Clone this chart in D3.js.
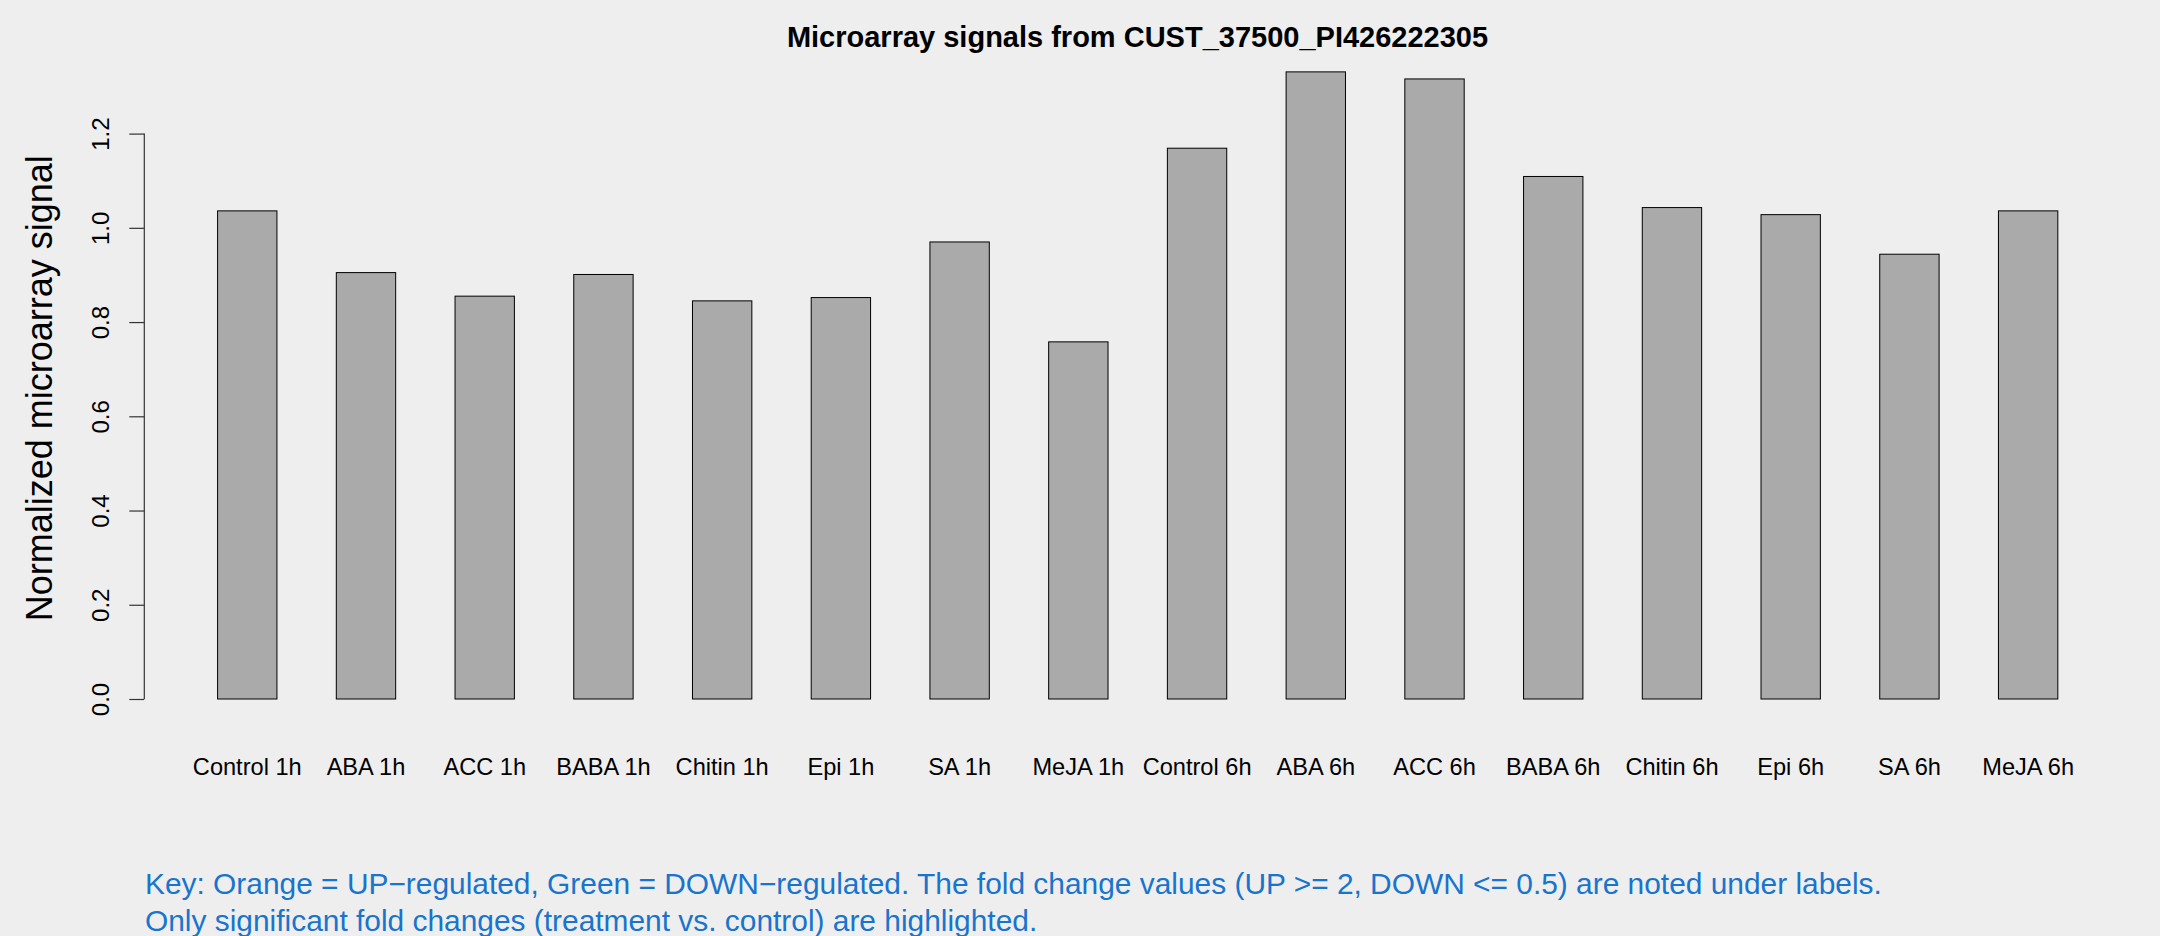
<!DOCTYPE html>
<html>
<head>
<meta charset="utf-8">
<script src="https://cdn.jsdelivr.net/npm/d3@7"></script>
<style>
  html, body { margin: 0; padding: 0; background: #EEEEEE; }
  svg { display: block; }
  text { font-family: "Liberation Sans", Arial, Helvetica, sans-serif; }
</style>
</head>
<body>
<script>
const categories = ["Control 1h","ABA 1h","ACC 1h","BABA 1h","Chitin 1h","Epi 1h","SA 1h","MeJA 1h",
                    "Control 6h","ABA 6h","ACC 6h","BABA 6h","Chitin 6h","Epi 6h","SA 6h","MeJA 6h"];
const signalValues = [1.036, 0.905, 0.855, 0.901, 0.845, 0.852, 0.970, 0.758,
                      1.169, 1.331, 1.316, 1.109, 1.043, 1.028, 0.944, 1.036];
const yTickValues = [0, 0.2, 0.4, 0.6, 0.8, 1.0, 1.2];
const titleText = "Microarray signals from CUST_37500_PI426222305";
const yLabelText = "Normalized microarray signal";
const keyLines = [
  "Key: Orange = UP\u2212regulated, Green = DOWN\u2212regulated. The fold change values (UP >= 2, DOWN <= 0.5) are noted under labels.",
  "Only significant fold changes (treatment vs. control) are highlighted."
];

const W = 2160, H = 936;
const svg = d3.select("body").append("svg").attr("width", W).attr("height", H);
svg.append("rect").attr("width", W).attr("height", H).attr("fill", "#EEEEEE");

const x = d3.scaleBand().domain(categories).range([187.9, 2087.5]).paddingInner(0.5).paddingOuter(0.25);
const y = d3.scaleLinear().domain([0, 1.2]).range([699, 133.6]);

// bars
svg.append("g").selectAll("rect").data(categories).join("rect")
  .attr("x", d => x(d))
  .attr("y", (d, i) => y(signalValues[i]))
  .attr("width", x.bandwidth())
  .attr("height", (d, i) => y(0) - y(signalValues[i]))
  .attr("fill", "#AAAAAA")
  .attr("stroke", "#000")
  .attr("stroke-width", 1);

// y axis
const axisX = 144.3;
const yAxis = d3.axisLeft(y).tickValues(yTickValues).tickFormat(d3.format(".1f")).tickSize(15).tickPadding(0);
const gy = svg.append("g").attr("transform", `translate(${axisX},0)`).call(yAxis);
gy.selectAll(".domain").attr("stroke", "#333").attr("stroke-width", 1.2)
  .attr("d", `M0,${y(0)}V${y(1.2)}`);
gy.selectAll(".tick line").attr("stroke", "#333").attr("stroke-width", 1.2);
gy.selectAll(".tick text")
  .attr("x", null).attr("dy", null)
  .attr("transform", "translate(-35,0) rotate(-90)")
  .attr("text-anchor", "middle")
  .attr("fill", "#000")
  .style("font-size", "24px")
  .style("font-family", "'Liberation Sans', Arial, sans-serif");

// x labels
const xAxis = d3.axisBottom(x).tickSize(0).tickPadding(0);
const gx = svg.append("g").attr("transform", "translate(0,775)").call(xAxis);
gx.select(".domain").remove();
gx.selectAll(".tick text").attr("y", 0).attr("dy", null)
  .attr("fill", "#000")
  .style("font-size", "23.6px")
  .style("font-family", "'Liberation Sans', Arial, sans-serif");

// title
svg.append("text").attr("x", 1137.5).attr("y", 46.7).attr("text-anchor", "middle")
  .style("font-size", "29px").style("font-weight", "bold").attr("fill", "#000").text(titleText);

// y label
svg.append("text").attr("transform", "translate(52.3,388.3) rotate(-90)").attr("text-anchor", "middle")
  .style("font-size", "36px").attr("fill", "#000").text(yLabelText);

// key
svg.append("g").selectAll("text").data(keyLines).join("text")
  .attr("x", 145).attr("y", (d, i) => 894.3 + i * 36.7)
  .style("font-size", "29.9px").attr("fill", "#1874CD").text(d => d);
</script>
</body>
</html>
